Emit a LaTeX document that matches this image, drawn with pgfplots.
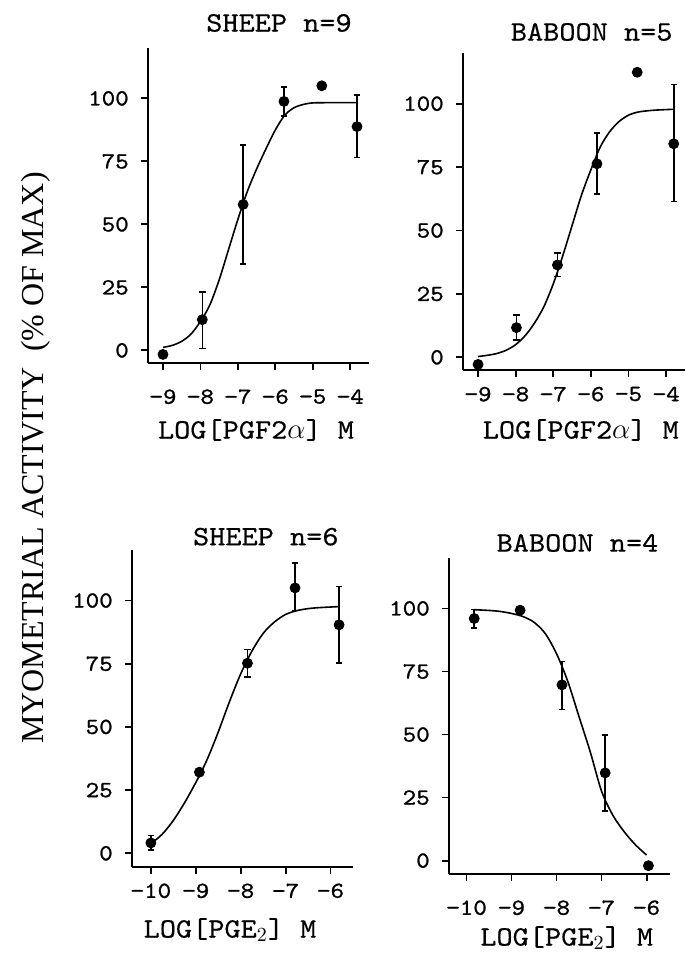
\documentclass[border=0pt]{standalone}
\usepackage{fontspec}
\setmainfont{Liberation Serif}
\newfontfamily\tickfont{lmmono10-regular.otf}[FakeStretch=1.12, FakeBold=1]
\newfontfamily\labfont{lmmono10-regular.otf}[FakeStretch=1.1, FakeBold=0.4]
\usepackage{pgfplots}
\pgfplotsset{compat=1.18}

% one style for all four dose-response panels
\pgfplotsset{
  panel/.style={
    scale only axis, anchor=south west, clip=false,
    axis lines=left, axis line style={-, line width=1pt},
    tick align=outside, major tick length=3.5pt,
    tick style={black, line width=0.9pt},
    ymin=-5, ymax=120,
    ytick={0,25,50,75,100}, yticklabels={0,25,50,75,100},
    /pgf/number format/assume math mode=true,
    ticklabel style={font=\tickfont\fontsize{11.5}{13}\selectfont},
    yticklabel style={xshift=-2.6pt},
    xticklabel style={yshift=-1.4pt},
  },
  lowticks/.style={xticklabel style={yshift=-4.8pt}},
  pts/.style={only marks, mark=*, mark size=2.5pt, black,
    error bars/.cd, y dir=both, y explicit,
    error bar style={line width=0.8pt},
    error mark options={rotate=90, mark size=1.6pt, line width=0.8pt}},
  fit/.style={black, line width=0.8pt, smooth, no marks},
}

\begin{document}
\begin{tikzpicture}
\path[use as bounding box] (0,0) rectangle (342.5pt,478pt);

% y label shared by all panels
\node[rotate=90, font=\fontsize{16}{18}\selectfont] at (18pt,249pt) {MYOMETRIAL ACTIVITY\ \ (\% OF MAX)};

% ---- sheep, PGF2a
\begin{axis}[panel, lowticks, at={(74pt,296.5pt)}, width=110.5pt, height=157.5pt,
  xmin=-9.4, xmax=-3.5, xtick={-9,-8,-7,-6,-5,-4},
  xticklabels={−9,−8,−7,−6,−5,−4}]
\addplot[fit] coordinates {(-9,1.2)(-8.75,2)(-8.5,3.6)(-8.25,6.5)(-8,11.5)(-7.75,18)(-7.5,28)(-7.25,40)(-7,52)(-6.75,63)(-6.5,72)(-6.25,80)(-6,87.5)(-5.75,93.3)(-5.5,96.3)(-5.25,97.6)(-5,98.2)(-4.5,98.3)(-3.82,98.3)};
\addplot[pts] table[x=x, y=y, y error plus=ep, y error minus=em] {
x y ep em
-9 -1.6 0 0
-7.95 12.2 10.9 11.5
-6.86 57.9 23.7 23.6
-5.77 98.8 5.6 5.7
-4.76 105.0 0 0
-3.82 88.8 12.5 12.2
};
\end{axis}

% ---- baboon, PGF2a
\begin{axis}[panel, at={(231.5pt,293pt)}, width=111pt, height=158.5pt,
  xmin=-9.4, xmax=-3.5, xtick={-9,-8,-7,-6,-5,-4},
  xticklabels={−9,−8,−7,−6,−5,−4}]
\addplot[fit] coordinates {(-9,0.3)(-8.75,0.8)(-8.5,1.5)(-8.25,2.8)(-8,5)(-7.75,8.5)(-7.5,13.5)(-7.25,20)(-7,29)(-6.75,40)(-6.5,52)(-6.25,64)(-6,74)(-5.75,83)(-5.5,89)(-5.25,93)(-5,95.5)(-4.75,96.7)(-4.5,97.2)(-4.25,97.5)(-3.8,97.8)};
\addplot[pts] table[x=x, y=y, y error plus=ep, y error minus=em] {
x y ep em
-9 -2.8 0 0
-7.98 11.7 5 4.9
-6.89 36.4 4.7 4.6
-5.84 76.3 12.1 12
-4.77 112.4 1.5 1.5
-3.8 84.2 23.3 22.8
};
\end{axis}

% ---- sheep, PGE2
\begin{axis}[panel, at={(66pt,44.65pt)}, width=110.5pt, height=158.35pt,
  xmin=-10.42, xmax=-5.5, ymin=-5.3, xtick={-10,-9,-8,-7,-6},
  xticklabels={−10,−9,−8,−7,−6}]
\addplot[fit] coordinates {(-10,3.8)(-9.75,7.5)(-9.5,13)(-9.25,20)(-9,28)(-8.75,37)(-8.5,48)(-8.25,60)(-8,71)(-7.75,80)(-7.5,87)(-7.25,91.5)(-7,94.5)(-6.75,96)(-6.5,96.8)(-6.25,97.2)(-5.81,97.6)};
\addplot[pts] table[x=x, y=y, y error plus=ep, y error minus=em] {
x y ep em
-10 4.1 2.9 2.8
-8.92 32.1 0 0
-7.85 75.2 5.4 5.5
-6.79 105 9.9 9
-5.81 90.4 15.1 15.2
};
\end{axis}

% ---- baboon, PGE2
\begin{axis}[panel, lowticks, at={(224.5pt,41pt)}, width=110.5pt, height=158pt,
  xmin=-10.39, xmax=-5.48, ymin=-5.3, xtick={-10,-9,-8,-7,-6},
  xticklabels={−10,−9,−8,−7,−6}]
\addplot[fit] coordinates {(-9.83,99.5)(-9.5,99.2)(-9.25,98.8)(-9,98)(-8.75,96.8)(-8.5,94.5)(-8.25,90)(-8,82)(-7.75,71)(-7.5,57)(-7.25,43)(-7,27.5)(-6.75,18)(-6.5,11.5)(-6.25,6.3)(-6,2.2)};
\addplot[pts] table[x=x, y=y, y error plus=ep, y error minus=em] {
x y ep em
-9.83 96.0 3.5 3.8
-8.81 99.3 0 0
-7.88 69.7 9.3 9.8
-6.92 34.8 15 15.2
-5.96 -2.0 0 0
};
\end{axis}

% panel titles and x labels
\begin{scope}[every node/.style={font=\labfont\fontsize{14}{16}\selectfont, inner sep=0pt}]
\node at (139.5pt,466.5pt) {SHEEP n=9};
\node at (295.85pt,462pt) {BABOON n=5};
\node at (132.9pt,209.65pt) {SHEEP n=6};
\node at (288.75pt,206.5pt) {BABOON n=4};
\node at (128pt,263pt) {LOG[PGF2$\alpha$] M};
\node at (290.4pt,263pt) {LOG[PGF2$\alpha$] M};
\node at (115pt,13pt) {LOG[PGE$_2$] M};
\node at (283.35pt,9pt) {LOG[PGE$_2$] M};
\end{scope}
\end{tikzpicture}
\end{document}
